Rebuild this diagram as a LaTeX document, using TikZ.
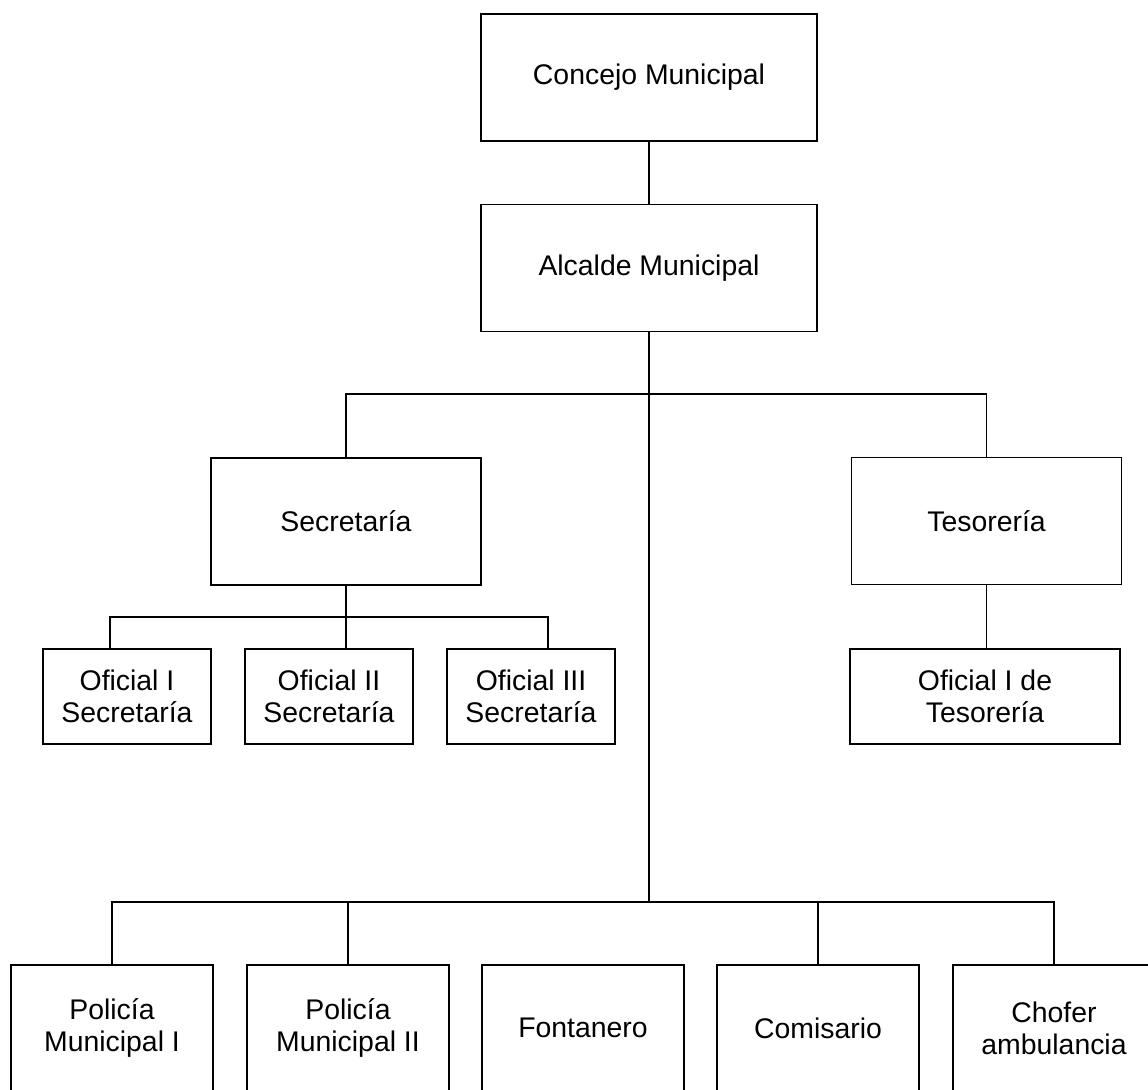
\documentclass[tikz,border=0pt]{standalone}
\usepackage{fontspec}
\setmainfont{Liberation Sans}

\begin{document}
\begin{tikzpicture}[x=0.5pt,y=-0.5pt,line width=0.7pt,
    box/.style={draw,rectangle,inner sep=0pt,align=center,
      font=\fontsize{14.2}{16}\selectfont},
    big/.style={box,minimum width=168pt,minimum height=63.5pt},
    mid/.style={box,minimum width=135pt,minimum height=63.5pt},
    small/.style={box,minimum width=84pt,minimum height=47.5pt},
    low/.style={box,minimum width=101pt,minimum height=63pt}]
  \useasboundingbox (0,0) rectangle (1148,1089);
  \node[big] (conc) at (649,77.5) {Concejo Municipal};
  \node[big] (alc) at (649,268) {Alcalde Municipal};
  \node[mid] (sec) at (346,521.5) {Secretaría};
  \node[mid] (tes) at (986.5,521) {Tesorería};
  \node[small] (of1) at (127,696.5) {Oficial I\\Secretaría};
  \node[small] (of2) at (329,696.5) {Oficial II\\Secretaría};
  \node[small] (of3) at (531,696.5) {Oficial III\\Secretaría};
  \node[mid,minimum height=47.5pt] (oft) at (985,696.5) {Oficial I de\\Tesorería};
  \node[low] (pol1) at (112,1028) {Policía\\Municipal I};
  \node[low] (pol2) at (348,1028) {Policía\\Municipal II};
  \node[low] (font) at (583,1028) {Fontanero};
  \node[low] (com) at (818,1028) {Comisario};
  \node[low] (chof) at (1054,1028) {Chofer\\ambulancia};
  \coordinate (h1) at (649,394);
  \coordinate (h2) at (649,902);
  \coordinate (h3) at (346,617);
  \draw (conc) -- (alc);
  \draw (alc.south) -- (h2);
  \draw (sec.north) |- (h1) -| (tes.north);
  \draw (sec.south) -- (sec.south |- of2.north);
  \draw ([xshift=-8.5pt]of1.north) |- (h3) -| ([xshift=8.5pt]of3.north);
  \draw (tes.south) -- (tes.south |- oft.north);
  \draw (pol1.north) |- (h2) -| (chof.north);
  \draw (pol2.north) -- (pol2.north |- h2);
  \draw (com.north) -- (com.north |- h2);
\end{tikzpicture}
\end{document}
